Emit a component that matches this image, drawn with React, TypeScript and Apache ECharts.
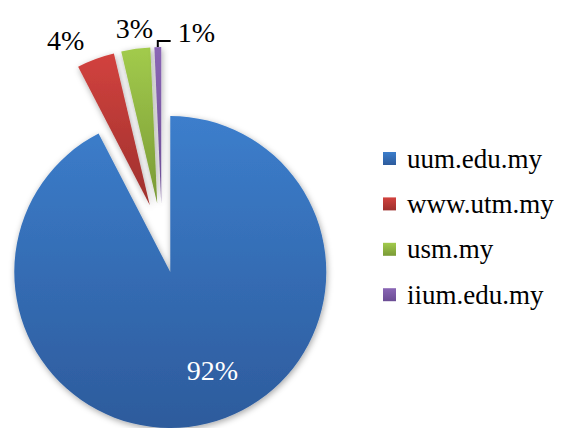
import React, { useEffect, useRef } from "react";
import * as echarts from "echarts";

const categories = ["uum.edu.my", "www.utm.my", "usm.my", "iium.edu.my"];
const values = [92.4, 3.9, 3.0, 0.7];
const topColors = ["#3C7ECC", "#D2423E", "#A2CB4C", "#8A66B5"];
const bottomColors = ["#2D5B9C", "#9E302D", "#7A9A36", "#6B4D94"];

const FONT = "Liberation Serif";

export default function App() {
  const ref = useRef<HTMLDivElement>(null);
  useEffect(() => {
    if (!ref.current) return;
    const chart = echarts.init(ref.current, null, { renderer: "svg" });
    const data = categories.map((name, i) => ({
      name,
      value: values[i],
      selected: true,
      itemStyle: {
        color: {
          type: "linear",
          x: 0,
          y: 0,
          x2: 0,
          y2: 1,
          colorStops: [
            { offset: 0, color: topColors[i] },
            { offset: 1, color: bottomColors[i] },
          ],
        },
      },
      label:
        i === 0
          ? { position: "inside", color: "#ffffff" }
          : { position: "outside", color: "#000000" },
      labelLine:
        i === 3 ? { show: true, length: 6, length2: -13 } : { show: false },
    }));
    chart.setOption({
      animation: false,
      backgroundColor: "#ffffff",
      legend: {
        orient: "vertical",
        left: 378,
        top: 140,
        itemWidth: 13,
        itemHeight: 13,
        itemGap: 18.4,
        icon: "rect",
        data: categories,
        textStyle: {
          fontFamily: FONT,
          fontSize: 27,
          lineHeight: 27,
          color: "#000000",
          padding: [0, 0, 0, 6],
        },
      },
      series: [
        {
          type: "pie",
          center: [162, 238],
          radius: [0, 156],
          startAngle: 90,
          clockwise: true,
          selectedMode: "multiple",
          selectedOffset: 35,
          avoidLabelOverlap: false,
          percentPrecision: 0,
          label: {
            show: true,
            formatter: "{d}%",
            fontFamily: FONT,
            fontSize: 28,
          },
          labelLine: {
            length: 4,
            length2: 12,
            lineStyle: { color: "#000000", width: 2 },
          },
          labelLayout: (p: any) => {
            const i = p.dataIndex;
            if (i === 0) return { dx: 23, dy: 20, hideOverlap: false };
            if (i === 1) return { dx: 7, dy: -15, hideOverlap: false };
            if (i === 2) return { dx: 35, dy: -16, hideOverlap: false };
            return { dx: 12, dy: -9, align: "left", hideOverlap: false };
          },
          itemStyle: {
            shadowBlur: 6,
            shadowColor: "rgba(0,0,0,0.35)",
            shadowOffsetX: 1,
            shadowOffsetY: 2,
          },
          emphasis: { disabled: true },
          data,
        },
      ],
    });
    return () => chart.dispose();
  }, []);
  return (
    <div
      ref={ref}
      style={{ position: "fixed", left: 0, top: 0, width: 564, height: 428 }}
    />
  );
}
